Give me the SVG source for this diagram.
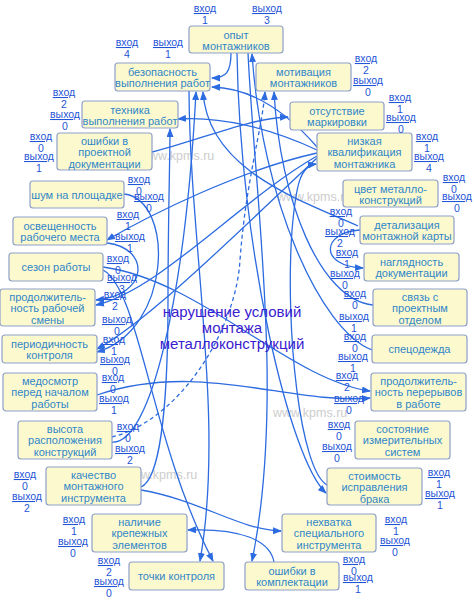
<svg xmlns="http://www.w3.org/2000/svg" width="474" height="600" viewBox="0 0 474 600">
<defs>
<marker id="ar" markerUnits="userSpaceOnUse" markerWidth="9" markerHeight="7" refX="8" refY="3.5" orient="auto"><path d="M0,0 L9,3.5 L0,7 z" fill="#2c6be0"/></marker>
</defs>
<style>
.bx{fill:#fdf9cf;stroke:#8e9fc9;stroke-width:1.2}
.bt{font-family:"Liberation Sans",Arial,sans-serif;font-size:11px;fill:#2f86c8;text-anchor:middle}
.lb{font-family:"Liberation Sans",Arial,sans-serif;font-size:10.5px;fill:#1f55d6;text-anchor:middle}
.u{text-decoration:underline}
.wm{font-family:"Liberation Sans",Arial,sans-serif;font-size:12.5px;fill:#cdcdcd}
.c{fill:none;stroke:#2c6be0;stroke-width:1.3;marker-end:url(#ar)}
.d{stroke-dasharray:4 3}
.ct{font-family:"Liberation Sans",Arial,sans-serif;font-size:15px;fill:#3b1ccf;text-anchor:middle}
</style>
<rect width="474" height="600" fill="#ffffff"/>
<g id="watermarks">
<text class="wm" x="140" y="160">www.kpms.ru</text>
<text class="wm" x="277" y="201">www.kpms.ru</text>
<text class="wm" x="273" y="417">www.kpms.ru</text>
<text class="wm" x="123" y="479">www.kpms.ru</text>
</g>
<g id="connectors">
<path class="c" d="M231,53 C231,72 226,78 212,78"/>
<path class="c" d="M317,147 C285,110 250,88 212,87"/>
<path class="c" d="M317,150 C270,128 220,116 178,119"/>
<path class="c" d="M152,152 C200,140 250,118 288,117"/>
<path class="c" d="M317,153 C240,170 150,215 107,240"/>
<path class="c" d="M317,156 C240,200 160,290 96,305"/>
<path class="c" d="M317,158 C240,230 150,320 97,349"/>
<path class="c" d="M360,230 C322,232 318,266 363,268"/>
<path class="c" d="M358,226 C300,200 208,170 203,92"/>
<path class="c" d="M124,194 C175,200 172,330 97,352"/>
<path class="c" d="M107,243 C150,248 150,295 96,300"/>
<path class="c" d="M103,267 C200,280 290,380 370,391"/>
<path class="c" d="M97,395 C200,360 290,405 370,398"/>
<path class="c" d="M141,487 C158,480 168,420 168,300 C168,220 170,160 170,129"/>
<path class="c" d="M112,442 C150,445 185,300 196,92"/>
<path class="c" d="M189,91 C190,250 225,420 200,561"/>
<path class="c" d="M103,270 C140,290 150,440 213,561"/>
<path class="c" d="M248,53 C255,200 285,400 252,561"/>
<path class="c" d="M237,53 C240,250 290,460 326,493"/>
<path class="c" d="M327,485 C300,470 285,330 292,230 C296,185 300,166 316,164"/>
<path class="c" d="M274,562 C270,540 240,528 188,530"/>
<path class="c" d="M141,490 C200,500 240,530 281,531"/>
<path class="c" d="M373,305 C320,300 280,200 274,92"/>
<path class="c" d="M372,350 C320,330 262,200 252,54"/>
<path class="c d" d="M112,437 C180,420 236,330 240,260 C246,180 262,130 265,92"/>
</g>
<g id="n1"><rect class="bx" x="189" y="26" width="94" height="27" rx="3"/><text class="bt" x="236" y="38.5">опыт</text><text class="bt" x="236" y="50">монтажников</text><text class="lb u" x="205" y="12">вход</text><text class="lb" x="205" y="24">1</text><text class="lb u" x="267" y="12">выход</text><text class="lb" x="267" y="24">3</text></g>
<g id="n2"><rect class="bx" x="115" y="63" width="95" height="28" rx="3"/><text class="bt" x="162.5" y="75.5">безопасность</text><text class="bt" x="162.5" y="87">выполнения работ</text><text class="lb u" x="127" y="46">вход</text><text class="lb" x="127" y="58">4</text><text class="lb u" x="168" y="46">выход</text><text class="lb" x="168" y="58">1</text></g>
<g id="n3"><rect class="bx" x="82" y="101" width="96" height="27" rx="3"/><text class="bt" x="130" y="113.5">техника</text><text class="bt" x="130" y="125">выполнения работ</text><text class="lb u" x="64" y="96">вход</text><text class="lb" x="64" y="108">2</text><text class="lb u" x="65" y="118">выход</text><text class="lb" x="65" y="130">0</text></g>
<g id="n4"><rect class="bx" x="57" y="133" width="95" height="37" rx="3"/><text class="bt" x="104.5" y="144.5">ошибки в</text><text class="bt" x="104.5" y="156">проектной</text><text class="bt" x="104.5" y="167.5">документации</text><text class="lb u" x="41" y="140">вход</text><text class="lb" x="41" y="152">0</text><text class="lb u" x="39" y="160">выход</text><text class="lb" x="39" y="172">1</text></g>
<g id="n5"><rect class="bx" x="30" y="181" width="94" height="27" rx="3"/><text class="bt" x="77" y="198.5">шум на площадке</text><text class="lb u" x="139" y="183">вход</text><text class="lb" x="139" y="195">0</text><text class="lb u" x="149" y="200">выход</text><text class="lb" x="149" y="212">0</text></g>
<g id="n6"><rect class="bx" x="13" y="217" width="94" height="28" rx="3"/><text class="bt" x="60" y="229.5">освещенность</text><text class="bt" x="60" y="241">рабочего места</text><text class="lb u" x="128" y="218">вход</text><text class="lb" x="128" y="230">1</text><text class="lb u" x="130" y="240">выход</text><text class="lb" x="130" y="252">1</text></g>
<g id="n7"><rect class="bx" x="9" y="253" width="94" height="28" rx="3"/><text class="bt" x="56" y="271">сезон работы</text><text class="lb u" x="118" y="262">вход</text><text class="lb" x="118" y="274">0</text><text class="lb u" x="122" y="281">выход</text><text class="lb" x="122" y="293">3</text></g>
<g id="n8"><rect class="bx" x="0" y="289" width="95" height="37" rx="3"/><text class="bt" x="47.5" y="300.5">продолжитель-</text><text class="bt" x="47.5" y="312">ность рабочей</text><text class="bt" x="47.5" y="323.5">смены</text><text class="lb u" x="115" y="298">вход</text><text class="lb" x="115" y="310">2</text><text class="lb u" x="117" y="323">выход</text><text class="lb" x="117" y="335">0</text></g>
<g id="n9"><rect class="bx" x="2" y="335" width="95" height="28" rx="3"/><text class="bt" x="49.5" y="347.5">периодичность</text><text class="bt" x="49.5" y="359">контроля</text><text class="lb u" x="114" y="343">вход</text><text class="lb" x="114" y="355">1</text><text class="lb u" x="115" y="363">выход</text><text class="lb" x="115" y="375">0</text></g>
<g id="n10"><rect class="bx" x="3" y="373" width="94" height="38" rx="3"/><text class="bt" x="50" y="384.5">медосмотр</text><text class="bt" x="50" y="396">перед началом</text><text class="bt" x="50" y="407.5">работы</text><text class="lb u" x="113" y="381">вход</text><text class="lb" x="113" y="393">0</text><text class="lb u" x="114" y="402">выход</text><text class="lb" x="114" y="414">1</text></g>
<g id="n11"><rect class="bx" x="18" y="421" width="94" height="38" rx="3"/><text class="bt" x="65" y="432.5">высота</text><text class="bt" x="65" y="444">расположения</text><text class="bt" x="65" y="455.5">конструкций</text><text class="lb u" x="128" y="430">вход</text><text class="lb" x="128" y="442">0</text><text class="lb u" x="130" y="452">выход</text><text class="lb" x="130" y="464">2</text></g>
<g id="n12"><rect class="bx" x="46" y="467" width="95" height="38" rx="3"/><text class="bt" x="93.5" y="478.5">качество</text><text class="bt" x="93.5" y="490">монтажного</text><text class="bt" x="93.5" y="501.5">инструмента</text><text class="lb u" x="25" y="478">вход</text><text class="lb" x="25" y="490">0</text><text class="lb u" x="27" y="500">выход</text><text class="lb" x="27" y="512">2</text></g>
<g id="n13"><rect class="bx" x="92" y="514" width="95" height="38" rx="3"/><text class="bt" x="139.5" y="525.5">наличие</text><text class="bt" x="139.5" y="537">крепежных</text><text class="bt" x="139.5" y="548.5">элементов</text><text class="lb u" x="74" y="523">вход</text><text class="lb" x="74" y="535">1</text><text class="lb u" x="73" y="545">выход</text><text class="lb" x="73" y="557">0</text></g>
<g id="n14"><rect class="bx" x="129" y="562" width="95" height="28" rx="3"/><text class="bt" x="176.5" y="580">точки контроля</text><text class="lb u" x="109" y="564">вход</text><text class="lb" x="109" y="576">2</text><text class="lb u" x="109" y="585">выход</text><text class="lb" x="109" y="597">0</text></g>
<g id="n15"><rect class="bx" x="245" y="562" width="94" height="28" rx="3"/><text class="bt" x="292" y="574.5">ошибки в</text><text class="bt" x="292" y="586">комплектации</text><text class="lb u" x="354" y="563">вход</text><text class="lb" x="354" y="575">0</text><text class="lb u" x="358" y="581">выход</text><text class="lb" x="358" y="593">1</text></g>
<g id="n16"><rect class="bx" x="282" y="514" width="94" height="38" rx="3"/><text class="bt" x="329" y="525.5">нехватка</text><text class="bt" x="329" y="537">специального</text><text class="bt" x="329" y="548.5">инструмента</text><text class="lb u" x="396" y="523">вход</text><text class="lb" x="396" y="535">1</text><text class="lb u" x="395" y="544">выход</text><text class="lb" x="395" y="556">0</text></g>
<g id="n17"><rect class="bx" x="327" y="468" width="95" height="37" rx="3"/><text class="bt" x="374.5" y="479.5">стоимость</text><text class="bt" x="374.5" y="491">исправления</text><text class="bt" x="374.5" y="502.5">брака</text><text class="lb u" x="439" y="476">вход</text><text class="lb" x="439" y="488">1</text><text class="lb u" x="440" y="497">выход</text><text class="lb" x="440" y="509">1</text></g>
<g id="n18"><rect class="bx" x="355" y="421" width="95" height="38" rx="3"/><text class="bt" x="402.5" y="432.5">состояние</text><text class="bt" x="402.5" y="444">измерительных</text><text class="bt" x="402.5" y="455.5">систем</text><text class="lb u" x="339" y="428">вход</text><text class="lb" x="339" y="440">0</text><text class="lb u" x="337" y="450">выход</text><text class="lb" x="337" y="462">0</text></g>
<g id="n19"><rect class="bx" x="371" y="373" width="95" height="38" rx="3"/><text class="bt" x="418.5" y="384.5">продолжитель-</text><text class="bt" x="418.5" y="396">ность перерывов</text><text class="bt" x="418.5" y="407.5">в работе</text><text class="lb u" x="347" y="379">вход</text><text class="lb" x="347" y="391">2</text><text class="lb u" x="349" y="402">выход</text><text class="lb" x="349" y="414">0</text></g>
<g id="n20"><rect class="bx" x="372" y="335" width="95" height="28" rx="3"/><text class="bt" x="419.5" y="353">спецодежда</text><text class="lb u" x="355" y="340">вход</text><text class="lb" x="355" y="352">0</text><text class="lb u" x="353" y="360">выход</text><text class="lb" x="353" y="372">1</text></g>
<g id="n21"><rect class="bx" x="373" y="289" width="94" height="37" rx="3"/><text class="bt" x="420" y="300.5">связь с</text><text class="bt" x="420" y="312">проектным</text><text class="bt" x="420" y="323.5">отделом</text><text class="lb u" x="355" y="297">вход</text><text class="lb" x="355" y="309">0</text><text class="lb u" x="354" y="320">выход</text><text class="lb" x="354" y="332">1</text></g>
<g id="n22"><rect class="bx" x="364" y="253" width="95" height="28" rx="3"/><text class="bt" x="411.5" y="265.5">наглядность</text><text class="bt" x="411.5" y="277">документации</text><text class="lb u" x="347" y="256">вход</text><text class="lb" x="347" y="268">1</text><text class="lb u" x="345" y="277">выход</text><text class="lb" x="345" y="289">0</text></g>
<g id="n23"><rect class="bx" x="360" y="216" width="94" height="28" rx="3"/><text class="bt" x="407" y="228.5">детализация</text><text class="bt" x="407" y="240">монтажной карты</text><text class="lb u" x="341" y="215">вход</text><text class="lb" x="341" y="227">0</text><text class="lb u" x="340" y="235">выход</text><text class="lb" x="340" y="247">2</text></g>
<g id="n24"><rect class="bx" x="343" y="180" width="95" height="27" rx="3"/><text class="bt" x="390.5" y="192.5">цвет металло-</text><text class="bt" x="390.5" y="204">конструкций</text><text class="lb u" x="454" y="181">вход</text><text class="lb" x="454" y="193">0</text><text class="lb u" x="457" y="200">выход</text><text class="lb" x="457" y="212">0</text></g>
<g id="n25"><rect class="bx" x="317" y="133" width="95" height="38" rx="3"/><text class="bt" x="364.5" y="144.5">низкая</text><text class="bt" x="364.5" y="156">квалификация</text><text class="bt" x="364.5" y="167.5">монтажника</text><text class="lb u" x="427" y="140">вход</text><text class="lb" x="427" y="152">1</text><text class="lb u" x="429" y="160">выход</text><text class="lb" x="429" y="172">4</text></g>
<g id="n26"><rect class="bx" x="290" y="102" width="94" height="28" rx="3"/><text class="bt" x="337" y="114.5">отсутствие</text><text class="bt" x="337" y="126">маркировки</text><text class="lb u" x="400" y="101">вход</text><text class="lb" x="400" y="113">1</text><text class="lb u" x="401" y="121">выход</text><text class="lb" x="401" y="133">0</text></g>
<g id="n27"><rect class="bx" x="256" y="63" width="95" height="28" rx="3"/><text class="bt" x="303.5" y="75.5">мотивация</text><text class="bt" x="303.5" y="87">монтажников</text><text class="lb u" x="366" y="62">вход</text><text class="lb" x="366" y="74">2</text><text class="lb u" x="368" y="84">выход</text><text class="lb" x="368" y="96">0</text></g>
<g id="center"><text class="ct" x="232" y="317">нарушение условий</text><text class="ct" x="232" y="333">монтажа</text><text class="ct" x="232" y="349">металлоконструкций</text></g>
</svg>
